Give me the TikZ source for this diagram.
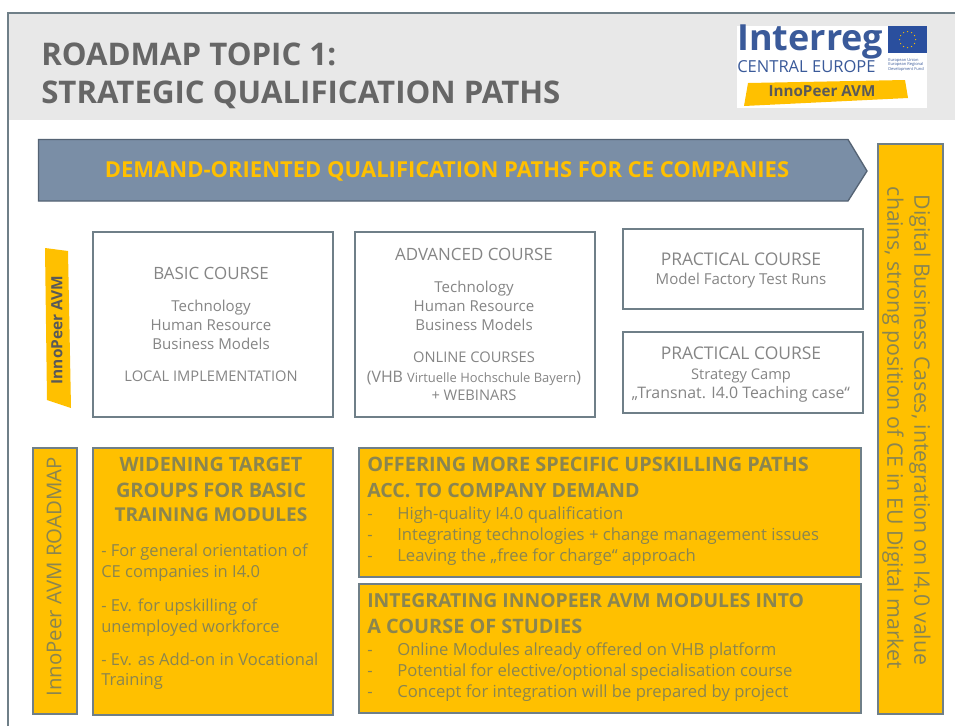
\documentclass[tikz,border=0pt]{standalone}
\usepackage{fontspec}
\usetikzlibrary{calc}
\setmainfont{Open Sans}
\definecolor{gold}{HTML}{FFC000}
\definecolor{edge}{HTML}{6F7F88}
\definecolor{txt}{HTML}{858585}
\definecolor{gtxt}{HTML}{8A8550}
\definecolor{head}{HTML}{E8E8E8}
\definecolor{arrowblue}{HTML}{7A8EA6}
\definecolor{logoblue}{HTML}{3A5A9A}
\definecolor{flag}{HTML}{2A4F9E}
\tikzset{
  whitebox/.style={draw=edge,line width=1.5pt,fill=white},
  goldbox/.style={draw=edge,line width=1.5pt,fill=gold},
  fixh/.style={text height=#1*0.72pt,text depth=0pt},
  line/.style={inner sep=0pt,text=txt,font=\fontsize{#1}{#1}\selectfont,fixh=#1},
  gline/.style={inner sep=0pt,text=gtxt,font=\fontsize{#1}{#1}\selectfont,fixh=#1},
  ghead/.style={inner sep=0pt,text=gtxt,font=\fontsize{#1}{#1}\selectfont\bfseries,fixh=#1},
  titleline/.style={inner sep=0pt,anchor=west,text=black!60,font=\fontsize{23.4}{23.4}\selectfont\bfseries,fixh=23.4},
}
\begin{document}
\begin{tikzpicture}[x=0.75pt,y=-0.75pt]
\useasboundingbox (0,0) rectangle (955,726);
\fill[white] (0,0) rectangle (955,726);
\fill[head] (8,13) rectangle (955,120);
\draw[edge,line width=1.4pt] (8,726) -- (8,13) -- (955,13);
\node[titleline] (t1) at (41,54) {ROADMAP TOPIC 1:};
\node[titleline] (t2) at (41,92) {STRATEGIC QUALIFICATION PATHS};
% logo
\fill[white] (737,26) rectangle (927,108);
\node[inner sep=0pt,anchor=west,text=logoblue,font=\fontsize{27}{27}\selectfont\bfseries] (lg1) at (737,42) {Interreg};
\node[inner sep=0pt,anchor=west,text=logoblue,font=\fontsize{12.4}{12.4}\selectfont] (lg2) at (737,67) {CENTRAL EUROPE};
\node[fill=flag,minimum width=29pt,minimum height=20pt,inner sep=0pt,anchor=north west] (flagbox) at (888,26) {};
\foreach \a in {0,30,...,330}\fill[gold] ($(flagbox.center)+(\a:6pt)$) circle (0.5pt);
\node[inner sep=0pt,anchor=north west,align=left,text=logoblue,font=\fontsize{3}{3.4}\selectfont] (lg3) at (888,58) {European Union\\European Regional\\Development Fund};
\fill[gold] (748,83) -- (905,80) -- (908,98) -- (744,106) -- cycle;
\node[inner sep=0pt,text=black!65,font=\fontsize{11.4}{11.4}\selectfont\bfseries] (lg4) at (822,91) {InnoPeer AVM};
% arrow
\draw[arrowblue!70!black,fill=arrowblue,line width=1pt] (38.5,139.5) -- (848,139.5) -- (867,171) -- (848,201) -- (38.5,201) -- cycle;
\node[inner sep=0pt,text=gold,font=\fontsize{16.5}{16.5}\selectfont\bfseries,fixh=16.5] (at) at (447,170) {DEMAND-ORIENTED QUALIFICATION PATHS FOR CE COMPANIES};
% right bar
\node[goldbox,anchor=north west,minimum width=49pt,minimum height=428pt,inner sep=0pt] (rb) at (876.5,142.5) {};
\node[gline=16,rotate=-90] (rbt1) at (922,430) {Digital Business Cases, integration on I4.0 value};
\node[gline=16,rotate=-90] (rbt2) at (895,428) {chains, strong position of CE in EU Digital market};
% side logo
\fill[gold] (45,248) -- (68,251) -- (71,408) -- (47,400) -- cycle;
\node[inner sep=0pt,rotate=90,text=black!65,font=\fontsize{11.6}{11.6}\selectfont\bfseries] (sl) at (57,330) {InnoPeer AVM};
% white boxes
\node[whitebox,anchor=north west,minimum width=180.5pt,minimum height=139pt,inner sep=0pt] (basic) at (91.5,230.5) {};
\node[line=12.7] (b1) at (211,273) {BASIC COURSE};
\node[line=11.3] (b2) at (211,306) {Technology};
\node[line=11.3] (b3) at (211,325) {Human Resource};
\node[line=11.3] (b4) at (211,344) {Business Models};
\node[line=11] (b5) at (211,376) {LOCAL IMPLEMENTATION};
\node[whitebox,anchor=north west,minimum width=180.5pt,minimum height=139pt,inner sep=0pt] (adv) at (353.5,230.5) {};
\node[line=12.7] (a1) at (474,254) {ADVANCED COURSE};
\node[line=11.3] (a2) at (474,287) {Technology};
\node[line=11.3] (a3) at (474,306) {Human Resource};
\node[line=11.3] (a4) at (474,325) {Business Models};
\node[line=11] (a5) at (474,357) {ONLINE COURSES};
\node[line=11.9] (a6) at (474,377) {(VHB {\fontsize{9.7}{9.7}\selectfont Virtuelle Hochschule Bayern})};
\node[line=11] (a7) at (474,395) {+ WEBINARS};
\node[whitebox,anchor=north west,minimum width=180.5pt,minimum height=60.5pt,inner sep=0pt] (p1) at (621.5,227.5) {};
\node[line=13.1] (p1a) at (741,259) {PRACTICAL COURSE};
\node[line=11.3] (p1b) at (741,279) {Model Factory Test Runs};
\node[whitebox,anchor=north west,minimum width=180.5pt,minimum height=61pt,inner sep=0pt] (p2) at (621.5,330.5) {};
\node[line=13.1] (p2a) at (741,353) {PRACTICAL COURSE};
\node[line=11] (p2b) at (741,374) {Strategy Camp};
\node[line=11.9] (p2c) at (741,393) {„Transnat. I4.0 Teaching case“};
% gold boxes
\node[goldbox,anchor=north west,minimum width=33pt,minimum height=200pt,inner sep=0pt] (rm) at (31.5,446.5) {};
\node[gline=15.3,rotate=90] (rmt) at (54,577) {InnoPeer AVM ROADMAP};
\node[goldbox,anchor=north west,minimum width=180.5pt,minimum height=200.5pt,inner sep=0pt] (wd) at (91.5,446.5) {};
\node[ghead=14.8] (w1) at (211,464) {WIDENING TARGET};
\node[ghead=15] (w2) at (211,490) {GROUPS FOR BASIC};
\node[ghead=14.3] (w3) at (211,515) {TRAINING MODULES};
\foreach \n/\y/\s in {w4/551/- For general orientation of,w5/572/CE companies in I4.0,w6/606/- Ev. for upskilling of,w7/627/unemployed workforce,w8/660/- Ev. as Add-on in Vocational,w9/680/Training}
  \node[gline=12.4,anchor=west] (\n) at (101,\y) {\s};
\node[goldbox,anchor=north west,minimum width=376.5pt,minimum height=97pt,inner sep=0pt] (of) at (357.5,446.5) {};
\node[ghead=14.9,anchor=west] (o1) at (367,464) {OFFERING MORE SPECIFIC UPSKILLING PATHS};
\node[ghead=14.7,anchor=west] (o2) at (367,490) {ACC. TO COMPANY DEMAND};
\foreach \n/\y/\s in {o3/513/High-quality I4.0 qualification,o4/534/Integrating technologies + change management issues,o5/555/Leaving the „free for charge“ approach}{
  \node[gline=12.5,anchor=west] (\n) at (397,\y) {\s};
  \node[gline=12.5,anchor=west] (\n d) at (367,\y) {-};}
\node[goldbox,anchor=north west,minimum width=376.5pt,minimum height=97pt,inner sep=0pt] (in) at (357.5,582.5) {};
\node[ghead=14.5,anchor=west] (i1) at (367,601) {INTEGRATING INNOPEER AVM MODULES INTO};
\node[ghead=14.9,anchor=west] (i2) at (367,626) {A COURSE OF STUDIES};
\foreach \n/\y/\s in {i3/649/Online Modules already offered on VHB platform,i4/670/{Potential for elective/optional specialisation course},i5/691/Concept for integration will be prepared by project}{
  \node[gline=12.5,anchor=west] (\n) at (397,\y) {\s};
  \node[gline=12.5,anchor=west] (\n d) at (367,\y) {-};}
\end{tikzpicture}
\end{document}
